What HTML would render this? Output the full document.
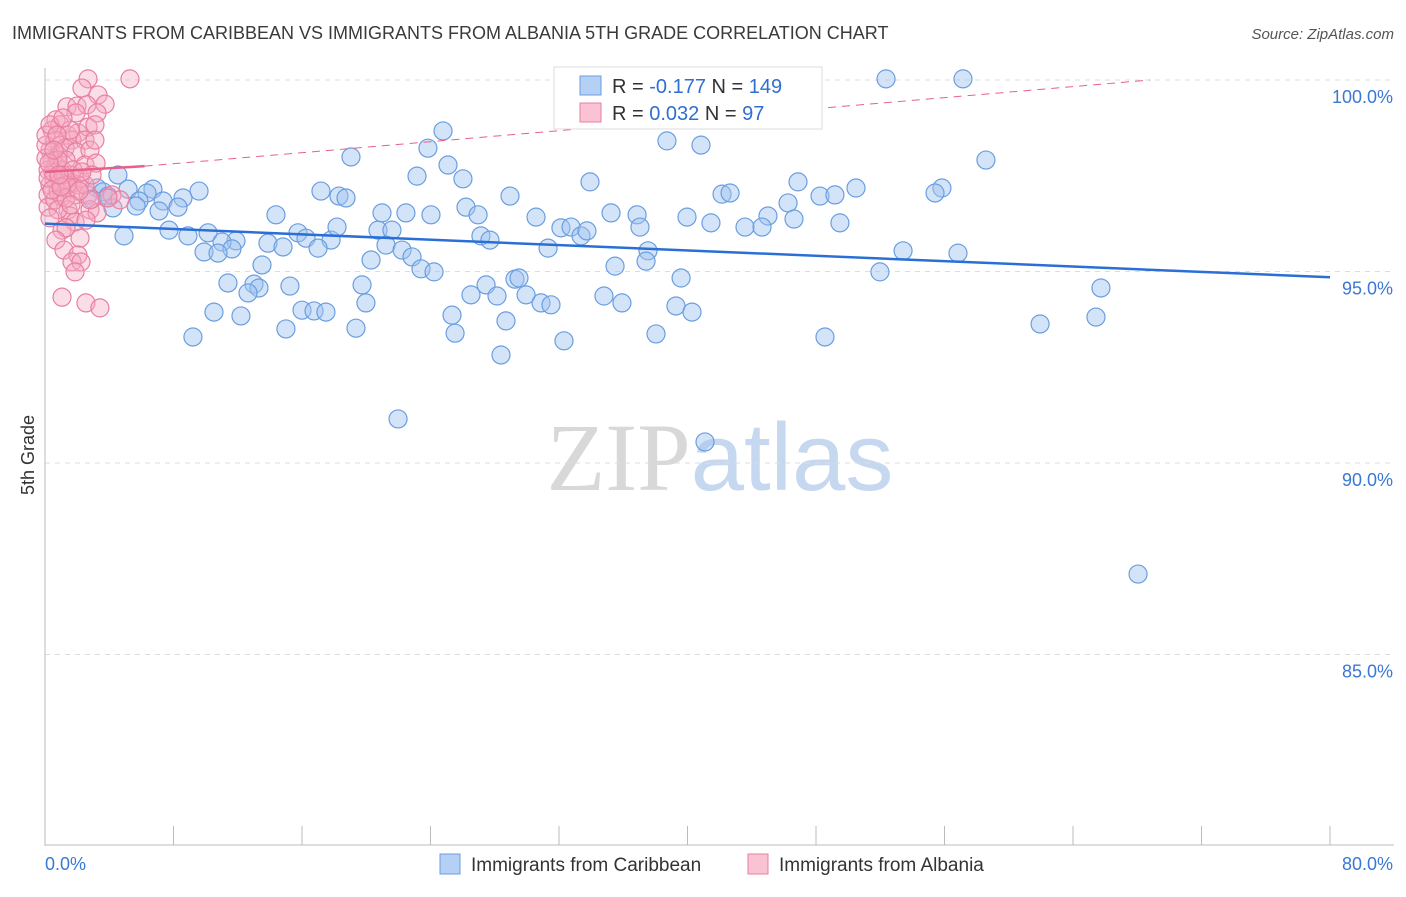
<!DOCTYPE html>
<html><head><meta charset="utf-8"><style>
body{margin:0;background:#fff;font-family:"Liberation Sans",sans-serif}
</style></head><body>
<svg id="chart" width="1406" height="892" xmlns="http://www.w3.org/2000/svg">
<text x="12" y="39" font-size="18" fill="#3a3a3a">IMMIGRANTS FROM CARIBBEAN VS IMMIGRANTS FROM ALBANIA 5TH GRADE CORRELATION CHART</text>
<text x="1394" y="39" font-size="15" fill="#555" text-anchor="end" font-style="italic">Source: ZipAtlas.com</text>
<text x="720" y="490" font-size="96" text-anchor="middle"><tspan fill="#d8d8d8" font-family="Liberation Serif">ZIP</tspan><tspan fill="#c5d8f0">atlas</tspan></text>
<text transform="translate(34,455) rotate(-90)" font-size="18" fill="#333" text-anchor="middle">5th Grade</text>
<g id="grid"></g><g id="axes"></g><g id="pts"></g><g id="trends"></g>
<g>
<rect x="554" y="67" width="268" height="62" fill="#fff" stroke="#ddd"/>
<rect x="580" y="76" width="21" height="19" fill="#b5d0f5" stroke="#6a9ee0"/>
<rect x="580" y="103" width="21" height="19" fill="#f9c3d4" stroke="#e87fa0"/>
<text x="612" y="93" font-size="20" fill="#333">R = <tspan fill="#2f6fcf">-0.177</tspan>   N = <tspan fill="#2f6fcf">149</tspan></text>
<text x="612" y="120" font-size="20" fill="#333">R = <tspan fill="#2f6fcf"> 0.032</tspan>   N = <tspan fill="#2f6fcf">  97</tspan></text>
</g>
<g>
<rect x="440" y="854" width="20" height="20" fill="#b5d0f5" stroke="#6a9ee0"/>
<text x="471" y="871" font-size="19" fill="#333">Immigrants from Caribbean</text>
<rect x="748" y="854" width="20" height="20" fill="#f9c3d4" stroke="#e87fa0"/>
<text x="779" y="871" font-size="19" fill="#333">Immigrants from Albania</text>
</g>
</svg>
<script>
const yTicks=[100,95,90,85];
const yTickLabels=["100.0%","95.0%","90.0%","85.0%"];
const xTicks=[0,10,20,30,40,50,60,70,80,90,100];
const xEndLabels=["0.0%","80.0%"];
const bluePx=[[886,79],[963,79],[443,131],[667,141],[701,145],[428,148],[351,157],[448,165],[986,160],[417,176],[463,179],[590,182],[118,175],[321,191],[510,196],[722,194],[730,193],[798,182],[856,188],[942,188],[935,193],[820,196],[835,195],[339,196],[346,198],[97,188],[128,189],[153,189],[147,193],[103,192],[108,196],[199,191],[183,198],[163,201],[139,201],[136,206],[113,208],[92,199],[159,211],[178,207],[276,215],[382,213],[406,213],[431,215],[466,207],[478,215],[536,217],[611,213],[637,215],[687,217],[711,223],[768,216],[788,203],[794,219],[745,227],[762,227],[840,223],[124,236],[169,230],[188,236],[208,233],[236,241],[222,242],[232,249],[204,252],[218,253],[268,243],[283,247],[298,233],[306,238],[331,240],[337,227],[318,248],[378,230],[392,230],[386,245],[402,250],[412,257],[371,260],[481,236],[490,240],[548,248],[561,228],[571,227],[581,236],[587,231],[640,227],[648,251],[646,261],[903,251],[958,253],[262,265],[228,283],[254,284],[259,288],[248,293],[290,286],[214,312],[241,316],[193,337],[302,310],[314,311],[326,312],[286,329],[356,328],[366,303],[362,285],[421,269],[434,272],[452,315],[455,333],[471,295],[486,285],[497,296],[506,321],[501,355],[515,279],[519,278],[526,295],[541,303],[551,305],[564,341],[615,266],[604,296],[622,303],[676,306],[681,278],[656,334],[692,312],[880,272],[1040,324],[1096,317],[1101,288],[825,337],[398,419],[705,442],[1138,574]];
const pinkPx=[[88,79],[130,79],[82,88],[98,95],[67,107],[77,106],[87,105],[105,104],[76,113],[97,113],[56,120],[60,125],[68,135],[78,133],[88,127],[95,125],[52,130],[55,140],[60,145],[72,140],[85,140],[50,150],[58,155],[65,148],[76,152],[90,150],[52,160],[56,165],[62,170],[66,160],[70,175],[48,170],[54,178],[60,183],[72,183],[80,178],[85,165],[96,163],[50,185],[48,195],[58,192],[68,188],[78,185],[62,197],[75,195],[88,195],[112,195],[48,207],[55,200],[68,210],[90,210],[97,213],[70,216],[75,222],[62,230],[66,228],[80,238],[56,240],[64,250],[78,255],[72,262],[81,262],[75,272],[62,297],[86,303],[100,308],[48,178],[53,172],[58,160],[63,175],[67,185],[73,170],[46,158],[46,145],[46,135],[50,125],[120,200],[108,198],[85,185],[92,175],[58,210],[50,218],[66,198],[82,172],[52,190],[70,130],[63,118],[95,140],[90,200],[57,135],[49,163],[54,150],[61,187],[79,191],[71,205],[86,220],[59,175]];
// convert reading to data units
const X0=45,X1=1330,Y100=80,PXPER=38.3;
const blueX=bluePx.map(p=>+((p[0]-X0)/(X1-X0)*80).toFixed(2));
const blueY=bluePx.map(p=>+(100-(p[1]-Y100)/PXPER).toFixed(2));
const pinkX=pinkPx.map(p=>+((p[0]-X0)/(X1-X0)*80).toFixed(2));
const pinkY=pinkPx.map(p=>+(100-(p[1]-Y100)/PXPER).toFixed(2));
const blueTrendX=[0,80], blueTrendY=[96.25,94.85];
const pinkTrendX=[0,6.2,68.8], pinkTrendY=[97.6,97.75,100];
const sx=v=>X0+v/80*(X1-X0);
const sy=v=>Y100+(100-v)*PXPER;
const NS="http://www.w3.org/2000/svg";
function mk(t,a,parent){const e=document.createElementNS(NS,t);for(const k in a)e.setAttribute(k,a[k]);document.getElementById(parent).appendChild(e);return e;}
yTicks.forEach((t,i)=>{
 const g=mk('line',{x1:45,x2:1394,y1:sy(t),y2:sy(t),stroke:'#ddd','stroke-dasharray':'5,5'},'grid');
 
 
 const tx=mk('text',{x:1393,y:sy(t)+23,'font-size':18,fill:'#3a78d4','text-anchor':'end'},'grid');
 tx.textContent=yTickLabels[i];
 
 
});
const ya=mk('line',{x1:45,x2:45,y1:68,y2:846,stroke:'#bbb'},'axes');


const xa=mk('line',{x1:45,x2:1394,y1:845,y2:845,stroke:'#bbb'},'axes');


xTicks.forEach(t=>{
 const l=mk('line',{x1:sx(t*0.8),x2:sx(t*0.8),y1:826,y2:845,stroke:'#bbb'},'axes');
 
 
});
[[0,'start',45],[1,'end',1393]].forEach(([i,anc,x])=>{
 const t=mk('text',{x:x,y:870,'font-size':18,fill:'#3a78d4','text-anchor':anc},'axes');
 t.textContent=xEndLabels[i];
 
 
});
blueX.forEach((v,i)=>{
 const c=mk('circle',{cx:sx(v),cy:sy(blueY[i]),r:9,fill:'rgba(160,196,240,0.45)',stroke:'#6a9ee0','stroke-width':1.2},'pts');
 
 
});
pinkX.forEach((v,i)=>{
 const c=mk('circle',{cx:sx(v),cy:sy(pinkY[i]),r:9,fill:'rgba(245,170,195,0.4)',stroke:'#e87fa0','stroke-width':1.2},'pts');
 
 
});
const bt=mk('line',{x1:sx(blueTrendX[0]),y1:sy(blueTrendY[0]),x2:sx(blueTrendX[1]),y2:sy(blueTrendY[1]),stroke:'#2a6fd6','stroke-width':2.5},'trends');


const pt=mk('line',{x1:sx(pinkTrendX[0]),y1:sy(pinkTrendY[0]),x2:sx(pinkTrendX[1]),y2:sy(pinkTrendY[1]),stroke:'#e8608a','stroke-width':2.5},'trends');


const pd=mk('line',{x1:sx(pinkTrendX[1]),y1:sy(pinkTrendY[1]),x2:sx(pinkTrendX[2]),y2:sy(pinkTrendY[2]),stroke:'#e8608a','stroke-width':1,'stroke-dasharray':'8,6'},'trends');


</script>
</body></html>
